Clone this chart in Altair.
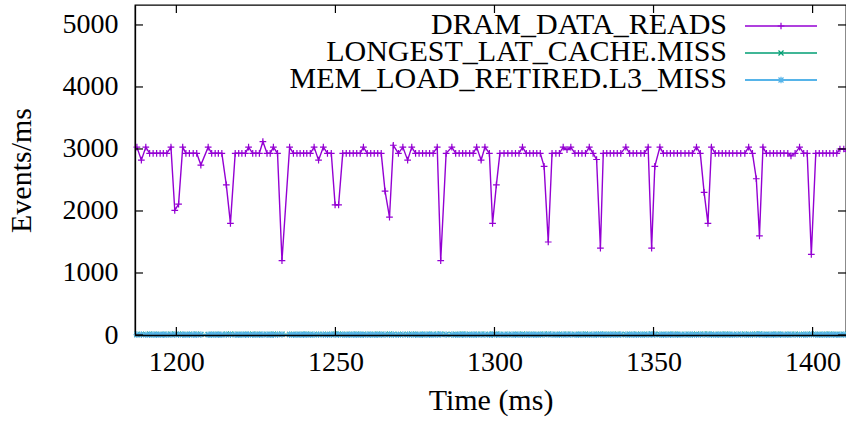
import altair as alt
import pandas as pd

# sample times (ms)
times = [
    1187.6, 1189.0, 1190.4, 1191.6, 1192.7, 1193.8, 1194.9, 1195.9, 1197.0, 1198.3,
    1199.5, 1200.7, 1202.0, 1203.0, 1204.1, 1205.3, 1206.4, 1207.7, 1210.0, 1211.1,
    1212.2, 1213.2, 1214.3, 1215.7, 1217.0, 1218.5, 1219.6, 1220.6, 1221.7, 1222.7,
    1224.0, 1225.0, 1226.1, 1227.2, 1228.5, 1229.5, 1230.5, 1231.8, 1233.2, 1235.6,
    1236.8, 1237.9, 1238.9, 1240.0, 1241.0, 1242.1, 1243.3, 1244.7, 1246.2, 1247.5,
    1248.7, 1249.9, 1251.0, 1252.3, 1253.4, 1254.5, 1255.6, 1256.7, 1257.8, 1258.8,
    1260.0, 1261.1, 1262.2, 1263.3, 1264.4, 1265.6, 1267.0, 1268.2, 1269.8, 1271.2,
    1272.7, 1274.0, 1275.2, 1276.3, 1277.4, 1278.5, 1279.6, 1280.7, 1282.0, 1283.1,
    1284.8, 1286.6, 1287.8, 1288.9, 1290.0, 1291.0, 1292.2, 1293.3, 1294.4, 1295.8,
    1297.0, 1298.4, 1299.4, 1300.6, 1301.7, 1303.0, 1304.2, 1305.5, 1306.6, 1307.7,
    1308.8, 1310.0, 1311.1, 1312.2, 1313.3, 1314.4, 1315.6, 1316.9, 1318.1, 1319.3,
    1320.4, 1321.6, 1322.8, 1324.0, 1325.3, 1326.4, 1327.5, 1328.6, 1329.8, 1331.0,
    1332.1, 1333.3, 1334.2, 1335.3, 1336.4, 1337.5, 1338.6, 1339.7, 1341.3, 1342.5,
    1343.6, 1344.7, 1346.0, 1347.1, 1348.3, 1349.4, 1350.4, 1352.0, 1353.1, 1354.2,
    1355.3, 1356.4, 1357.5, 1358.6, 1359.9, 1361.1, 1362.2, 1363.5, 1364.7, 1365.9,
    1367.1, 1368.2, 1369.4, 1370.5, 1371.6, 1372.7, 1373.8, 1374.9, 1376.2, 1377.4,
    1378.7, 1379.9, 1381.1, 1382.3, 1383.3, 1384.4, 1385.5, 1386.6, 1387.7, 1388.8,
    1389.9, 1391.0, 1392.2, 1393.2, 1394.5, 1395.9, 1397.2, 1398.3, 1399.6, 1401.0,
    1402.1, 1403.2, 1404.3, 1405.4, 1406.5, 1407.6, 1408.6, 1409.8, 1411.0,
]

# DRAM_DATA_READS (events/ms)
dram = [
    3030, 2820, 3030, 2930, 2930, 2930, 2930, 2930, 2930, 3030,
    2010, 2110, 3030, 2930, 2930, 2930, 2930, 2740, 3030, 2930,
    2930, 2930, 2930, 2420, 1800, 2930, 2930, 2930, 2930, 3030,
    2930, 2930, 2930, 3120, 2930, 2930, 3030, 2930, 1200, 3030,
    2930, 2930, 2930, 2930, 2930, 2930, 3030, 2820, 3030, 2930,
    2930, 2100, 2100, 2930, 2930, 2930, 2930, 2930, 2930, 3030,
    2930, 2930, 2930, 2930, 2930, 2320, 1900, 3060, 2930, 3030,
    2820, 3030, 2930, 2930, 2930, 2930, 2930, 2930, 3030, 1200,
    2930, 3030, 2930, 2930, 2930, 2930, 2930, 2930, 3030, 2820,
    3030, 2930, 1800, 2420, 2930, 2930, 2930, 2930, 2930, 2930,
    3030, 2930, 2930, 2930, 2930, 2930, 2720, 1500, 2930, 2930,
    2930, 3030, 2990, 3030, 2930, 2930, 2930, 2930, 3030, 2930,
    2830, 1400, 2930, 2930, 2930, 2930, 2930, 2930, 3030, 2930,
    2930, 2930, 2930, 2930, 3030, 1400, 2720, 3030, 2930, 2930,
    2930, 2930, 2930, 2930, 2930, 2930, 2930, 3030, 2930, 2300,
    1800, 3030, 2930, 2930, 2930, 2930, 2930, 2930, 2930, 2930,
    2930, 3030, 2930, 2520, 1600, 3030, 2930, 2930, 2930, 2930,
    2930, 2930, 2930, 2890, 2930, 3030, 2930, 2930, 1300, 2930,
    2930, 2930, 2930, 2930, 2930, 2930, 3000, 3000, 2960,
]

# LONGEST_LAT_CACHE.MISS (near zero)
llc = [
    9, 11, 10, 12, 9, 10, 11, 10, 9, 12, 14, 13, 10, 9, 11, 10, 12, 11, 10, 9,
    10, 11, 9, 12, 13, 10, 9, 11, 10, 10, 12, 9, 10, 11, 10, 9, 12, 10, 14, 11,
    10, 9, 11, 10, 12, 10, 9, 11, 10, 10, 11, 13, 12, 10, 9, 11, 10, 12, 9, 10,
    11, 10, 9, 12, 10, 11, 13, 10, 9, 11, 10, 12, 10, 9, 11, 10, 10, 12, 9, 14,
    10, 11, 9, 10, 12, 10, 11, 9, 10, 12, 10, 9, 13, 12, 10, 11, 9, 10, 11, 10,
    12, 9, 10, 11, 10, 9, 12, 14, 10, 11, 9, 10, 12, 10, 11, 9, 10, 12, 10, 9,
    11, 14, 10, 9, 11, 10, 12, 10, 9, 11, 10, 12, 9, 10, 11, 14, 12, 10, 9, 11,
    10, 12, 9, 10, 11, 10, 9, 12, 10, 12, 13, 10, 9, 11, 10, 12, 10, 9, 11, 10,
    12, 9, 10, 12, 14, 10, 11, 9, 10, 12, 10, 11, 9, 10, 12, 10, 9, 11, 14, 10,
    11, 9, 10, 12, 10, 11, 9, 10, 11, 10, 12, 9, 10, 11, 10, 9, 12, 10, 11, 10,
]

# MEM_LOAD_RETIRED.L3_MISS (near zero)
l3 = [
    5, 6, 4, 5, 6, 5, 4, 6, 5, 5, 7, 6, 5, 4, 6, 5, 5, 6, 4, 5,
    6, 5, 4, 6, 7, 5, 4, 5, 6, 5, 4, 6, 5, 5, 6, 4, 5, 6, 8, 5,
    4, 6, 5, 5, 6, 4, 5, 6, 5, 4, 6, 7, 6, 5, 4, 6, 5, 5, 6, 4,
    5, 6, 4, 5, 6, 5, 7, 5, 4, 6, 5, 5, 6, 4, 5, 6, 5, 4, 6, 8,
    5, 6, 4, 5, 6, 5, 4, 6, 5, 5, 6, 4, 7, 6, 5, 4, 6, 5, 5, 6,
    4, 5, 6, 5, 4, 6, 6, 8, 5, 4, 6, 5, 5, 6, 4, 5, 6, 5, 4, 6,
    5, 8, 4, 5, 6, 5, 4, 6, 5, 5, 6, 4, 5, 6, 5, 8, 6, 5, 4, 6,
    5, 5, 6, 4, 5, 6, 5, 4, 6, 7, 7, 5, 4, 6, 5, 5, 6, 4, 5, 6,
    5, 4, 6, 6, 8, 5, 4, 6, 5, 5, 6, 4, 5, 6, 5, 4, 6, 5, 8, 5,
    4, 6, 5, 5, 6, 4, 5, 6, 5, 4, 6, 5, 5, 6, 4, 5, 6, 5, 4, 6,
]

series_names = ["DRAM_DATA_READS", "LONGEST_LAT_CACHE.MISS", "MEM_LOAD_RETIRED.L3_MISS"]
series_colors = ["#9400d3", "#009e73", "#56b4e9"]
x_ticks = [1200, 1250, 1300, 1350, 1400]
y_ticks = [0, 1000, 2000, 3000, 4000, 5000]

PLUS = "M-1,0L1,0M0,-1L0,1"
CROSS = "M-0.75,-0.75L0.75,0.75M-0.75,0.75L0.75,-0.75"
STAR = "M-1,0L1,0M0,-1L0,1M-0.75,-0.75L0.75,0.75M-0.75,0.75L0.75,-0.75"
series_shapes = [PLUS, CROSS, STAR]
series_widths = [1.4, 1.3, 2.0]

rows = []
for name, vals in zip(series_names, [dram, llc, l3]):
    for t, v in zip(times, vals):
        rows.append({"t": t, "v": v, "series": name})
df = pd.DataFrame(rows)

W, H = 711, 330
FONT = "Liberation Serif"
FS = 28
TFS = 30

color_scale = alt.Scale(domain=series_names, range=series_colors)
shape_scale = alt.Scale(domain=series_names, range=series_shapes)
width_scale = alt.Scale(domain=series_names, range=series_widths)
x_scale = alt.Scale(domain=[1187, 1410.5], nice=False, zero=False)
y_scale = alt.Scale(domain=[0, 5322], nice=False)

x_axis = alt.Axis(
    values=x_ticks, title="Time (ms)", ticks=False, grid=False,
    domain=True, domainColor="black", domainWidth=1.3, zindex=1,
    labelFont=FONT, labelFontSize=FS, labelColor="black", labelPadding=13,
    labelFlush=False, titleFont=FONT, titleFontSize=TFS, titleFontWeight="normal",
    titleColor="black", titlePadding=9, labelExpr="'' + datum.value",
)
y_axis = alt.Axis(
    values=y_ticks, title="Events/ms", ticks=False, grid=False,
    domain=True, domainColor="black", domainWidth=1.3, zindex=1,
    labelFont=FONT, labelFontSize=FS, labelColor="black", labelPadding=17,
    labelFlush=False, titleFont=FONT, titleFontSize=TFS, titleFontWeight="normal",
    titleColor="black", titlePadding=26, labelExpr="'' + datum.value",
)

base = alt.Chart(df)
lines = base.mark_line().encode(
    x=alt.X("t:Q", scale=x_scale, axis=x_axis),
    y=alt.Y("v:Q", scale=y_scale, axis=y_axis),
    color=alt.Color("series:N", scale=color_scale, legend=None),
    strokeWidth=alt.StrokeWidth("series:N", scale=width_scale, legend=None),
    order=alt.Order("t:Q"),
)
points = base.mark_point(filled=False, size=45, strokeWidth=1.2, opacity=1).encode(
    x=alt.X("t:Q"),
    y=alt.Y("v:Q"),
    color=alt.Color("series:N", scale=color_scale, legend=None),
    shape=alt.Shape("series:N", scale=shape_scale, legend=None),
)

xt = pd.DataFrame({"t": x_ticks})
yt = pd.DataFrame({"v": y_ticks})
tick_kw = dict(color="black", strokeWidth=1.2)
tick_b = alt.Chart(xt).mark_rule(**tick_kw).encode(
    x=alt.X("t:Q"), y=alt.value(H), y2=alt.value(H - 8))
tick_t = alt.Chart(xt).mark_rule(**tick_kw).encode(
    x=alt.X("t:Q"), y=alt.value(0), y2=alt.value(8))
tick_l = alt.Chart(yt).mark_rule(**tick_kw).encode(
    y=alt.Y("v:Q"), x=alt.value(0), x2=alt.value(8))
tick_r = alt.Chart(yt).mark_rule(**tick_kw).encode(
    y=alt.Y("v:Q"), x=alt.value(W), x2=alt.value(W - 8))

# key (gnuplot style: label on the left, sample line + marker on the right)
key_rows_y = [21, 48, 75]
key_layers = []
for name, col, shp, sw, ky in zip(series_names, series_colors, series_shapes, series_widths, key_rows_y):
    kd = pd.DataFrame({"series": [name]})
    key_layers.append(alt.Chart(kd).mark_text(
        align="right", baseline="middle", font=FONT, fontSize=30, color="black", dy=-1
    ).encode(x=alt.value(592), y=alt.value(ky), text="series:N"))
    key_layers.append(alt.Chart(kd).mark_rule(color=col, strokeWidth=sw).encode(
        x=alt.value(610), x2=alt.value(682), y=alt.value(ky)))
    key_layers.append(alt.Chart(kd).mark_point(
        shape=shp, size=45, filled=False, strokeWidth=1.2, color=col, opacity=1
    ).encode(x=alt.value(646), y=alt.value(ky)))

chart = alt.layer(lines, points, tick_b, tick_t, tick_l, tick_r, *key_layers).properties(
    width=W, height=H,
    autosize=alt.AutoSizeParams(type="none"),
    padding={"left": 135, "top": 5, "right": 0, "bottom": 86},
).configure(font=FONT).configure_view(stroke="black", strokeWidth=1.3)

chart.save("out.html", embed_options={"renderer": "svg", "actions": False})
